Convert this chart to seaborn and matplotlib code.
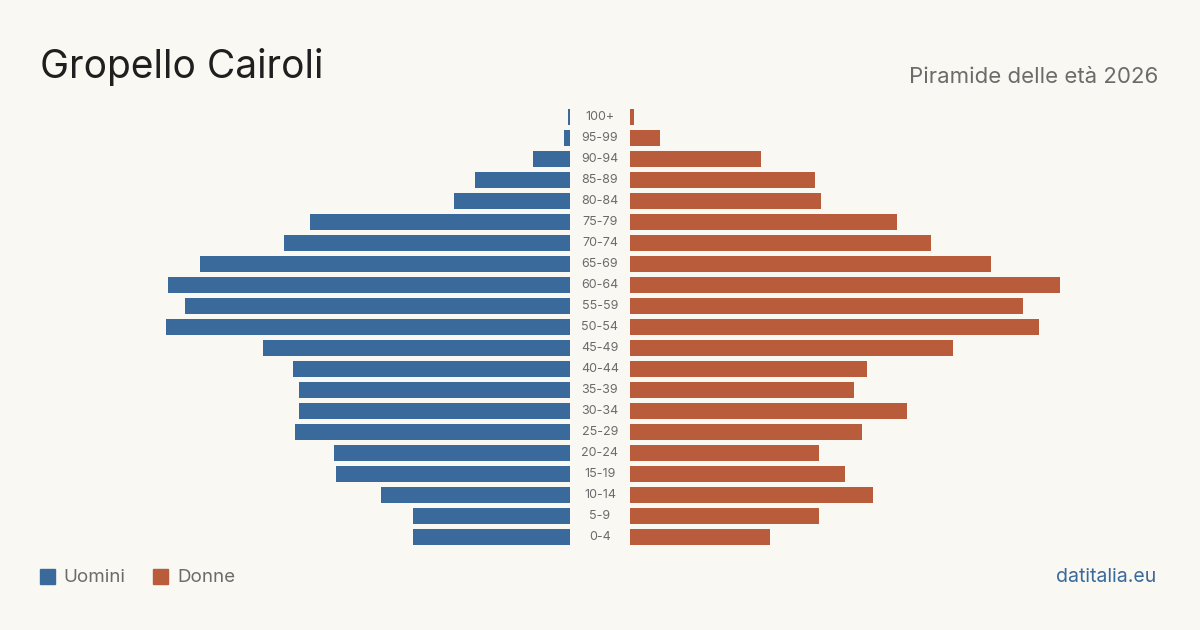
import pandas as pd
import numpy as np
import matplotlib
matplotlib.use('Agg')
import matplotlib.pyplot as plt
import seaborn as sns

# age groups, youngest first
age_groups = ['0-4', '5-9', '10-14', '15-19', '20-24', '25-29', '30-34', '35-39',
              '40-44', '45-49', '50-54', '55-59', '60-64', '65-69', '70-74',
              '75-79', '80-84', '85-89', '90-94', '95-99', '100+']
uomini = [73, 73, 88, 109, 110, 128, 126, 126, 129, 143, 188, 179, 187, 172,
          133, 121, 54, 44, 17, 3, 1]
donne = [65, 88, 113, 100, 88, 108, 129, 104, 110, 150, 190, 183, 200, 168,
         140, 124, 89, 86, 61, 14, 2]

bg = '#f9f8f3'
blue = '#3a6a9c'
orange = '#b95c3b'

sns.set_style('white')
plt.rcParams['font.family'] = ['Inter', 'DejaVu Sans']

df = pd.DataFrame({'eta': age_groups, 'Uomini': uomini, 'Donne': donne})
order = age_groups[::-1]  # oldest on top

fig = plt.figure(figsize=(12, 6.3), dpi=100, facecolor=bg)
bottom, top = 1 - 547.5 / 630, 1 - 106.5 / 630
ax_l = fig.add_axes([140 / 1200, bottom, 430 / 1200, top - bottom])
ax_r = fig.add_axes([630 / 1200, bottom, 430 / 1200, top - bottom])

xmax = 200
sns.barplot(data=df, y='eta', x='Uomini', order=order, color=blue,
            width=0.8, ax=ax_l, saturation=1, linewidth=0)
sns.barplot(data=df, y='eta', x='Donne', order=order, color=orange,
            width=0.8, ax=ax_r, saturation=1, linewidth=0)
ax_l.set_xlim(xmax, 0)
ax_r.set_xlim(0, xmax)

for ax in (ax_l, ax_r):
    ax.set_facecolor('none')
    ax.set_ylim(len(order) - 0.5, -0.5)
    ax.set_xlabel('')
    ax.set_ylabel('')
    ax.set_xticks([])
    ax.set_yticks([])
    sns.despine(ax=ax, left=True, bottom=True)

# age labels in the middle gap (30 px left of the right axes)
gap = 30 / 430 * xmax
for i, lab in enumerate(order):
    ax_r.text(-gap, i, lab, ha='center', va='center', fontsize=9,
              color='#6b6b6b', clip_on=False)

fig.text(40 / 1200, 1 - 67 / 630, 'Gropello Cairoli', fontsize=28,
         color='#1f1f1f', ha='left', va='center')
fig.text(1158 / 1200, 1 - 77 / 630, 'Piramide delle età 2026', fontsize=16,
         color='#6b6b6b', ha='right', va='center')

# legend
fig.patches.append(plt.Rectangle((40 / 1200, 1 - 584 / 630), 15 / 1200, 15 / 630,
                                 transform=fig.transFigure, color=blue))
fig.text(63 / 1200, 1 - 577.5 / 630, 'Uomini', fontsize=13.5, color='#6b6b6b',
         ha='left', va='center')
fig.patches.append(plt.Rectangle((153 / 1200, 1 - 584 / 630), 15 / 1200, 15 / 630,
                                 transform=fig.transFigure, color=orange))
fig.text(177 / 1200, 1 - 577.5 / 630, 'Donne', fontsize=13.5, color='#6b6b6b',
         ha='left', va='center')

fig.text(1156 / 1200, 1 - 577.5 / 630, 'datitalia.eu', fontsize=14, color=blue,
         ha='right', va='center')

fig.savefig('out.png', dpi=100, facecolor=bg)
